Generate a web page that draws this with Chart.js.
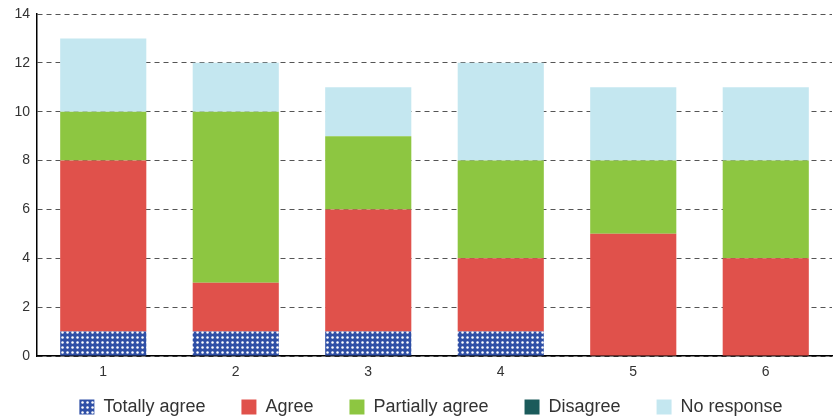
<!DOCTYPE html>
<html>
<head>
<meta charset="utf-8">
<script src="https://cdn.jsdelivr.net/npm/chart.js@4/dist/chart.umd.min.js"></script>
<style>
html,body{margin:0;padding:0;background:#fff;}
#wrap{width:835px;height:418px;position:relative;}
</style>
</head>
<body>
<div id="wrap"><canvas id="c" width="835" height="418"></canvas></div>
<script>
const categories = ["1", "2", "3", "4", "5", "6"];
const totallyAgree = [1, 1, 1, 1, 0, 0];
const agree = [7, 2, 5, 3, 5, 4];
const partiallyAgree = [2, 7, 3, 4, 3, 4];
const disagree = [0, 0, 0, 0, 0, 0];
const noResponse = [3, 2, 2, 4, 3, 3];
const seriesNames = ["Totally agree", "Agree", "Partially agree", "Disagree", "No response"];

function dotPattern() {
  const p = document.createElement('canvas');
  p.width = 5; p.height = 5;
  const g = p.getContext('2d');
  g.fillStyle = '#2f4fa6';
  g.fillRect(0, 0, 5, 5);
  g.fillStyle = '#ffffff';
  g.beginPath();
  g.arc(2.5, 2.5, 1.25, 0, Math.PI * 2);
  g.fill();
  return g.createPattern(p, 'repeat');
}
const ctx = document.getElementById('c').getContext('2d');
const pat = dotPattern();

const colors = [pat, '#e0514b', '#8dc641', '#1b5b5b', '#c4e7f0'];
const values = [totallyAgree, agree, partiallyAgree, disagree, noResponse];

const legendShift = {
  id: 'legendShift',
  afterLayout(chart) {
    const l = chart.legend;
    if (!l) return;
    l.top -= 24; l.bottom -= 24;
    l.left += 15; l.right += 15;
  }
};

new Chart(ctx, {
  type: 'bar',
  data: {
    labels: categories,
    datasets: seriesNames.map((n, i) => ({
      label: n,
      data: values[i],
      backgroundColor: colors[i],
      borderWidth: 0,
      categoryPercentage: 0.65,
      barPercentage: 1.0
    }))
  },
  plugins: [legendShift],
  options: {
    responsive: false,
    animation: false,
    layout: { padding: { left: 0, right: 3, top: 14, bottom: -32 } },
    scales: {
      x: {
        stacked: true,
        afterFit: (a) => { a.height = 30; },
        grid: { display: false, drawTicks: false },
        border: { display: true, color: '#000', width: 1.5 },
        ticks: { color: '#333', font: { family: 'Liberation Sans', size: 14 }, padding: 8 }
      },
      y: {
        stacked: true,
        min: 0, max: 14,
        afterFit: (a) => { a.width = 37; a.paddingTop = 0; },
        ticks: { stepSize: 2, color: '#333', font: { family: 'Liberation Sans', size: 14 }, padding: 7 },
        grid: { color: '#555', lineWidth: 1, tickLength: 0, drawTicks: false },
        border: { display: true, color: '#000', width: 1.5, dash: [5, 4] }
      }
    },
    plugins: {
      legend: {
        position: 'bottom',
        labels: {
          boxWidth: 15, boxHeight: 15,
          padding: 36,
          color: '#333',
          font: { family: 'Liberation Sans', size: 18 }
        }
      },
      tooltip: { enabled: false }
    }
  }
});
</script>
</body>
</html>
